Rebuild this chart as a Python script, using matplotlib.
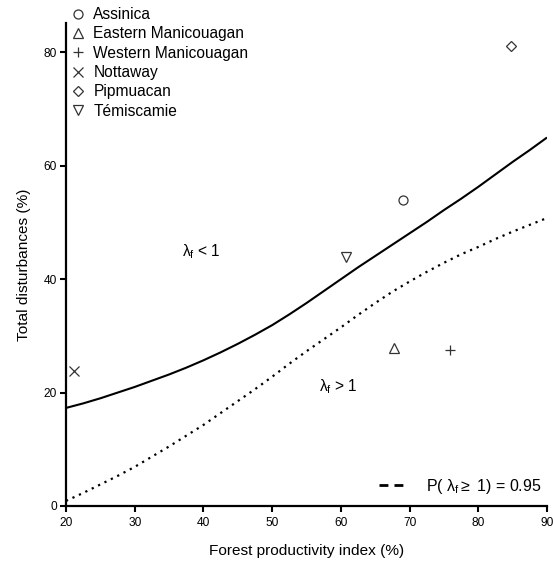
import matplotlib
matplotlib.use("Agg")
import matplotlib.pyplot as plt
from matplotlib.lines import Line2D

plt.rcParams['font.family'] = ['Liberation Sans', 'DejaVu Sans']
plt.rcParams['mathtext.fontset'] = 'custom'
plt.rcParams['mathtext.rm'] = 'Liberation Sans'
plt.rcParams['mathtext.it'] = 'Liberation Sans'

# Regions (points)
regions = ["Assinica", "Eastern Manicouagan", "Western Manicouagan",
           "Nottaway", "Pipmuacan", "Témiscamie"]
region_markers = ["o", "^", "+", "x", "D", "v"]
productivity = [69.0, 67.8, 75.9, 21.1, 84.8, 60.7]
disturbances = [54.0, 27.8, 27.6, 23.9, 81.1, 44.0]

# Threshold curves
curve_x = [20, 22.5, 25, 27.5, 30, 32.5, 35, 37.5, 40, 42.5, 45, 47.5, 50, 52.5, 55,
           57.5, 60, 62.5, 65, 67.5, 70, 72.5, 75, 77.5, 80, 82.5, 85, 87.5, 90]
solid_y = [17.3, 18.1, 19.0, 20.0, 21.0, 22.1, 23.2, 24.4, 25.7, 27.1, 28.6, 30.2, 31.9,
           33.8, 35.8, 37.9, 40.0, 42.1, 44.1, 46.1, 48.1, 50.1, 52.2, 54.2, 56.3,
           58.5, 60.7, 62.8, 65.0]
dotted_y = [0.9, 2.3, 3.8, 5.3, 6.9, 8.7, 10.5, 12.4, 14.3, 16.4, 18.5, 20.6, 22.8,
            25.1, 27.3, 29.4, 31.5, 33.7, 35.8, 37.8, 39.6, 41.3, 42.9, 44.4, 45.7,
            47.1, 48.4, 49.6, 50.8]

xticks = [20, 30, 40, 50, 60, 70, 80, 90]
yticks = [0, 20, 40, 60, 80]

fig = plt.figure(figsize=(5.53, 5.64), dpi=100)
ax = fig.add_axes([66/553, 58/564, 481/553, 483/564])

ax.plot(curve_x, solid_y, color='black', lw=1.5, solid_capstyle='butt')
ax.plot(curve_x, dotted_y, color='black', lw=1.6, linestyle=(0, (1, 2.2)))

mcol = '#333333'
handles = []
for name, m, x, y in zip(regions, region_markers, productivity, disturbances):
    if m in ('+', 'x'):
        ms = 7.5
    elif m == 'D':
        ms = 5.5
    else:
        ms = 6.5
    h, = ax.plot([x], [y], linestyle='none', marker=m, ms=ms,
                 mfc='none', mec=mcol, mew=0.9, label=name, clip_on=False)
    handles.append(h)

leg1 = ax.legend(handles=handles, loc='upper left', bbox_to_anchor=(70/553, 1 - 7/564),
                 bbox_transform=fig.transFigure, frameon=False, fontsize=11.2,
                 handlelength=1.0, handletextpad=0.5, labelspacing=0.28,
                 borderaxespad=0, borderpad=0)
ax.add_artist(leg1)

prob_handle = Line2D([], [], color='black', lw=2, linestyle=(0, (3.2, 2.2)))
ax.legend([prob_handle], [r'P( $\lambda_{\mathrm{f}}$$\geq$ 1) = 0.95'], loc='lower right',
          bbox_to_anchor=(542/553, 1 - 496/564), bbox_transform=fig.transFigure,
          frameon=False, fontsize=11.5, handlelength=1.9, handletextpad=1.1,
          borderaxespad=0, borderpad=0)

ax.text(39.7, 44.9, r'$\lambda_{\mathrm{f}}$ < 1', fontsize=11.2, ha='center', va='center')
ax.text(59.6, 21.0, r'$\lambda_{\mathrm{f}}$ > 1', fontsize=11.2, ha='center', va='center')

ax.set_xlim(20, 90)
ax.set_ylim(0, 85.2)
ax.set_xticks(xticks)
ax.set_yticks(yticks)
ax.tick_params(axis='both', direction='out', length=4, width=1.5, labelsize=8.6)
ax.tick_params(axis='x', pad=4)
ax.tick_params(axis='y', pad=2.5)
for s in ('top', 'right'):
    ax.spines[s].set_visible(False)
for s in ('left', 'bottom'):
    ax.spines[s].set_linewidth(1.6)

ax.set_xlabel('Forest productivity index (%)', fontsize=11.1, labelpad=11)
ax.set_ylabel('Total disturbances (%)', fontsize=11.1, labelpad=9)

fig.savefig('out.png', dpi=100)
